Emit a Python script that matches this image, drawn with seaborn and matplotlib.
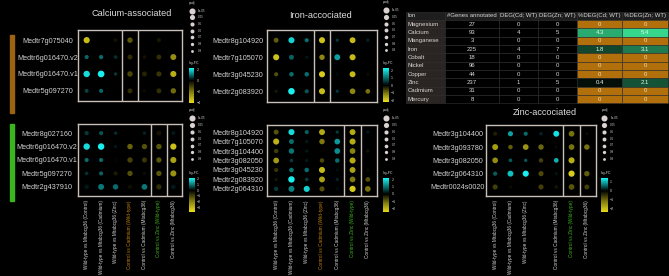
import numpy as np
import pandas as pd
import matplotlib
matplotlib.use("Agg")
import matplotlib.pyplot as plt
import seaborn as sns
from matplotlib.colors import LinearSegmentedColormap, Normalize
from matplotlib.cm import ScalarMappable
from matplotlib.patches import Rectangle

W, H = 669, 276
FRAME = "#c9c1b9"
TXT = "#d2d2d2"
ORANGE = "#c0800f"
GREEN = "#3cb41c"

plt.rcParams.update({
    "font.family": ["Liberation Sans", "DejaVu Sans"],
    "figure.facecolor": "black",
    "axes.facecolor": "black",
})

# ---- data -------------------------------------------------------------
contrasts = ["Wild-type vs Mtabcg36 (Control)", "Wild-type vs Mtabcg36 (Cadmium)",
             "Wild-type vs Mtabcg36 (Zinc)", "Control vs Cadmium (Wild-type)",
             "Control vs Cadmium (Mtabcg36)", "Control vs Zinc (Wild-type)",
             "Control vs Zinc (Mtabcg36)"]
contrast_colors = [TXT, TXT, TXT, ORANGE, TXT, GREEN, TXT]

padj_breaks = [1e-05, 0.05, 0.5, 0.6, 0.7, 0.8, 0.9]
padj_labels = ["1e-05", "0.05", "0.5", "0.6", "0.7", "0.8", "0.9"]

ca_top_genes = ["Medtr7g075040", "Medtr6g016470.v2", "Medtr6g016470.v1", "Medtr5g097270"]
ca_top_lfc = [[-3.5, 0.0, -0.3, -1.5, 0.0, -0.4, 0.0],
              [0.9, 0.9, 0.4, -0.8, -0.3, -0.8, -2.5],
              [2.0, 2.2, 0.5, -1.2, -0.6, -0.9, -3.2],
              [0.6, 0.9, 0.0, -0.8, -0.2, -0.8, -1.8]]
ca_top_padj = [[1e-6, 0.9, 0.7, 0.01, 0.9, 0.5, 0.9],
               [0.5, 0.4, 0.7, 0.1, 0.7, 0.1, 1e-4],
               [1e-8, 1e-12, 0.8, 0.01, 0.1, 0.05, 1e-5],
               [0.6, 0.5, 0.9, 0.1, 0.8, 0.1, 0.01]]

ca_bot_genes = ["Medtr8g027160", "Medtr6g016470.v2", "Medtr6g016470.v1",
                "Medtr5g097270", "Medtr2g437910"]
ca_bot_lfc = [[0.5, 0.7, 0.4, 0.0, 0.3, -0.3, 0.2],
              [1.9, 2.1, 0.2, -1.5, -1.2, -1.3, -3.2],
              [0.9, 0.9, 0.05, -1.0, -0.8, -1.3, -2.6],
              [0.4, 0.8, -0.4, -1.2, -0.2, -1.3, -2.3],
              [0.2, 1.0, 0.9, -0.2, 1.0, -0.7, 0.2]]
ca_bot_padj = [[0.5, 0.5, 0.8, 0.9, 0.8, 0.1, 0.5],
               [1e-8, 1e-9, 0.8, 0.01, 0.02, 0.01, 1e-6],
               [0.5, 0.5, 0.9, 0.02, 0.05, 0.02, 1e-5],
               [0.7, 0.5, 0.5, 0.02, 0.8, 0.02, 1e-5],
               [0.3, 1e-4, 0.01, 0.3, 1e-3, 0.02, 0.2]]

fe_top_genes = ["Medtr8g104920", "Medtr7g105070", "Medtr3g045230", "Medtr2g083920"]
fe_top_lfc = [[-0.8, 2.0, 1.0, -1.9, 0.5, -1.8, 0.3],
              [-1.9, 0.9, 0.2, -1.2, 1.5, -1.8, 0.0],
              [-0.7, 1.0, 1.0, -2.0, 0.1, -1.8, -0.1],
              [-0.2, 2.3, 0.8, -1.8, 0.5, -1.2, -1.0]]
fe_top_padj = [[0.1, 1e-5, 0.5, 1e-5, 0.8, 1e-4, 0.8],
               [1e-5, 0.1, 0.8, 0.01, 1e-4, 1e-5, 0.9],
               [0.5, 0.3, 0.3, 1e-5, 0.8, 1e-4, 0.8],
               [0.8, 1e-10, 0.5, 1e-5, 0.8, 1e-3, 0.2]]

fe_bot_genes = ["Medtr8g104920", "Medtr7g105070", "Medtr3g104400", "Medtr3g082050",
                "Medtr3g045230", "Medtr2g083920", "Medtr2g064310"]
fe_bot_lfc = [[-0.8, 1.9, 0.8, -1.8, 0.5, -1.8, 0.2],
              [-1.9, 0.9, 0.2, -1.2, 1.3, -1.8, 0.0],
              [-0.6, 1.0, 0.2, 0.0, 1.2, -1.3, -0.2],
              [-1.6, 0.5, 0.2, -0.7, 0.9, -1.8, 0.0],
              [-0.5, 1.0, 0.9, -2.0, 0.1, -1.7, -0.1],
              [-0.2, 2.1, 0.5, -1.7, 0.3, -1.2, -0.8],
              [0.5, 1.1, 1.8, -0.8, 0.1, -2.2, -1.1]]
fe_bot_padj = [[0.1, 1e-5, 0.5, 1e-4, 0.8, 1e-4, 0.8],
               [1e-5, 0.1, 0.8, 0.01, 1e-3, 1e-5, 0.9],
               [0.3, 0.01, 0.8, 0.9, 1e-3, 1e-3, 0.8],
               [1e-3, 0.7, 0.8, 0.3, 0.3, 1e-5, 0.9],
               [0.5, 0.3, 0.3, 1e-5, 0.8, 1e-4, 0.8],
               [0.8, 1e-8, 0.7, 1e-4, 0.8, 1e-3, 0.2],
               [0.4, 1e-4, 1e-5, 0.05, 0.8, 1e-6, 1e-3]]

zn_genes = ["Medtr3g104400", "Medtr3g093780", "Medtr3g082050", "Medtr2g064310", "Medtr0024s0020"]
zn_lfc = [[-0.3, 0.9, 0.6, 0.2, 1.3, -1.1, -0.1],
          [-1.6, -0.9, -1.5, -1.0, -0.1, -1.1, -1.1],
          [-1.4, 0.5, 0.5, -0.6, 1.0, -1.8, 0.0],
          [0.5, 1.1, 1.5, -0.7, 0.1, -2.2, -0.9],
          [-0.6, -0.1, 0.0, -0.6, -0.2, -0.8, -0.6]]
zn_padj = [[0.5, 0.05, 0.5, 0.8, 1e-4, 1e-3, 0.8],
           [1e-4, 0.3, 1e-3, 0.01, 0.9, 1e-3, 0.01],
           [1e-3, 0.7, 0.8, 0.3, 0.2, 1e-5, 0.9],
           [0.4, 1e-4, 1e-5, 0.05, 0.8, 1e-6, 0.01],
           [0.05, 0.8, 0.9, 0.05, 0.7, 1e-3, 0.1]]
zn_xlabels = contrasts[:3] + [""] + contrasts[4:]

# log2FC colour limits per panel (ggplot used the data range)
ca_top_lim, ca_top_ticks = (-4.2, 2.2), [2, 0, -2, -4]
ca_bot_lim, ca_bot_ticks = (-3.75, 2.1), [2, 1, 0, -1, -2, -3]
fe_top_lim, fe_top_ticks = (-2.2, 2.3), [2, 1, 0, -1, -2]
fe_bot_lim, fe_bot_ticks = (-2.45, 2.1), [2, 1, 0, -1, -2]
zn_lim, zn_ticks = (-2.4, 1.4), [1, 0, -1, -2]

table_cols = ["Ion", "#Genes annotated", "DEG(Cd; WT)", "DEG(Zn; WT)", "%DEG(Cd; WT)", "%DEG(Zn; WT)"]
ions = ["Magnesium", "Calcium", "Manganese", "Iron", "Cobalt", "Nickel",
        "Copper", "Zinc", "Cadmium", "Mercury"]
genes_annotated = [27, 93, 3, 225, 18, 96, 44, 237, 31, 8]
deg_cd = [0, 4, 0, 4, 0, 0, 0, 1, 0, 0]
deg_zn = [0, 5, 0, 7, 0, 0, 0, 5, 0, 0]
pct_cd = [0, 4.3, 0, 1.8, 0, 0, 0, 0.4, 0, 0]
pct_zn = [0, 5.4, 0, 3.1, 0, 0, 0, 2.1, 0, 0]


# ---- helpers ----------------------------------------------------------
def px_rect(x0, y0, x1, y1):
    return [x0 / W, 1 - y1 / H, (x1 - x0) / W, (y1 - y0) / H]


def dot_area(p):
    # diameter grows with log(-log10 padj); returned as marker area in pt^2
    d_px = 1.22 * (2.3 + 1.32 * (np.log10(-np.log10(p)) + 1.339))
    return (d_px * 0.72) ** 2


def fc_cmap(vmin, vmax):
    z = (0 - vmin) / (vmax - vmin)
    return LinearSegmentedColormap.from_list("fc", [
        (0.0, "#eadc1e"), (z * 0.5, "#827c0e"), (z, "#000000"),
        (z + (1 - z) * 0.5, "#0a7c7c"), (1.0, "#18f0f0")])


def build_frame(genes, lfc, padj):
    rows = []
    for g, lrow, prow in zip(genes, lfc, padj):
        for c, l, p in zip(contrasts, lrow, prow):
            rows.append({"gene": g, "contrast": c, "log2FC": l, "padj": p})
    return pd.DataFrame(rows)


def dot_panel(fig, rect, genes, lfc, padj, vlim, hl, ymarg, ypad, xlabels=None):
    df = build_frame(genes, lfc, padj)
    ax = fig.add_axes(px_rect(*rect))
    ax.set_facecolor("black")
    sizes = {p: dot_area(p) for p in df["padj"].unique()}
    sns.scatterplot(data=df, x="contrast", y="gene", hue="log2FC",
                    palette=fc_cmap(*vlim), hue_norm=Normalize(*vlim),
                    size="padj", sizes=sizes, linewidth=0, legend=False, ax=ax)
    n = len(genes)
    ax.set_xlim(-0.6, 6.6)
    ax.set_ylim(n - 1 + ymarg, -ymarg)
    ax.set_xlabel("")
    ax.set_ylabel("")
    ax.set_yticks(range(n), genes)
    if xlabels is None:
        ax.set_xticks(range(7), [""] * 7)
    else:
        ax.set_xticks(range(7), xlabels)
    ax.tick_params(length=0)
    ax.tick_params(axis="y", pad=ypad, labelsize=5.2, labelcolor=TXT)
    ax.tick_params(axis="x", pad=3, labelsize=3.4, labelrotation=90)
    for lab in ax.get_yticklabels():
        lab.set_ha("center")
    for lab, c in zip(ax.get_xticklabels(), contrast_colors):
        lab.set_color(c)
    for s in ax.spines.values():
        s.set_color(FRAME)
        s.set_linewidth(1.0)
    ax.axvline(hl - 0.53, color=FRAME, lw=1.0)
    ax.axvline(hl + 0.53, color=FRAME, lw=1.0)
    return ax


def padj_legend(ov, x, y, step):
    ov.text(x - 3, y - 8, "padj", fontsize=2.4, color=TXT, va="center", ha="left")
    for i, (p, lab) in enumerate(zip(padj_breaks, padj_labels)):
        ov.scatter(x, y + i * step, s=dot_area(p), color="#dad1d1", linewidth=0)
        ov.text(x + 6, y + i * step, lab, fontsize=2.2, color=TXT, va="center")


def fc_colorbar(fig, ov, rect, vlim, ticks):
    x0, y0 = rect[0], rect[1]
    ov.text(x0, y0 - 5, "log\u2082FC", fontsize=2.5, color=TXT, va="center", ha="left")
    cax = fig.add_axes(px_rect(*rect))
    cb = fig.colorbar(ScalarMappable(norm=Normalize(*vlim), cmap=fc_cmap(*vlim)), cax=cax)
    cb.outline.set_visible(False)
    cb.set_ticks(ticks)
    cax.tick_params(labelsize=2.6, colors=TXT, length=0, pad=1.5)


# ---- figure -----------------------------------------------------------
fig = plt.figure(figsize=(W / 100, H / 100), dpi=100)

dot_panel(fig, (78, 30, 182, 101), ca_top_genes, ca_top_lfc, ca_top_padj,
          ca_top_lim, 3, 0.6, 22)
dot_panel(fig, (78, 124, 182, 196), ca_bot_genes, ca_bot_lfc, ca_bot_padj,
          ca_bot_lim, 5, 0.68, 22.5, contrasts)
dot_panel(fig, (267, 30, 377, 101.5), fe_top_genes, fe_top_lfc, fe_top_padj,
          fe_top_lim, 3, 0.6, 21)
dot_panel(fig, (267, 125, 377, 196), fe_bot_genes, fe_bot_lfc, fe_bot_padj,
          fe_bot_lim, 5, 0.75, 21, contrasts)
dot_panel(fig, (486, 124.7, 596, 196), zn_genes, zn_lfc, zn_padj,
          zn_lim, 5, 0.68, 20.5, zn_xlabels)

# table of annotated / DEG counts
ax_t = fig.add_axes(px_rect(406, 11.6, 668, 103.2))
ax_t.axis("off")
cell_text = [[ion, str(g), str(a), str(b), f"{c:g}", f"{d:g}"]
             for ion, g, a, b, c, d in zip(ions, genes_annotated, deg_cd, deg_zn, pct_cd, pct_zn)]
col_w = np.array([39, 54, 39, 39, 45, 46], float)
tbl = ax_t.table(cellText=cell_text, colLabels=table_cols, colWidths=list(col_w / col_w.sum()),
                 cellLoc="center", bbox=[0, 0, 1, 1])
tbl.auto_set_font_size(False)
tbl.set_fontsize(4.3)
pct_cmap = LinearSegmentedColormap.from_list(
    "pct", [(0.0, "#b2700c"), (0.002, "#000000"), (1.0, "#36d68c")])
pct_norm = Normalize(0, 5.4)
for (r, c), cell in tbl.get_celld().items():
    cell.set_edgecolor("#333333")
    cell.set_linewidth(0.4)
    txt = cell.get_text()
    txt.set_color("#d6d6d6")
    if c == 0:
        txt.set_ha("left")
        cell.PAD = 0.05
    if r == 0:
        cell.set_facecolor("#1e1e1e")
    elif c == 0:
        cell.set_facecolor("#2a2522")
    elif c >= 4:
        v = (pct_cd if c == 4 else pct_zn)[r - 1]
        cell.set_facecolor(pct_cmap(pct_norm(v)))
        txt.set_color("#f2dfb8" if v == 0 else "#e8f5ec")
    else:
        cell.set_facecolor("black")

# overlay for titles, side bars and legends
ov = fig.add_axes([0, 0, 1, 1])
ov.set_xlim(0, W)
ov.set_ylim(H, 0)
ov.axis("off")

ov.add_patch(Rectangle((10, 35), 4, 78, color="#9c6410"))
ov.add_patch(Rectangle((10, 124), 4, 77, color=GREEN))

ov.text(131.7, 14, "Calcium-associated", fontsize=6.6, color="#dcdcdc", ha="center", va="center")
ov.text(321, 15.3, "Iron-accociated", fontsize=6.6, color="#dcdcdc", ha="center", va="center")
ov.text(545, 112.7, "Zinc-accociated", fontsize=6.6, color="#dcdcdc", ha="center", va="center")

padj_legend(ov, 192, 10.7, 6.67)
padj_legend(ov, 192, 118.3, 6.8)
padj_legend(ov, 385.7, 10.3, 6.67)
padj_legend(ov, 386, 118.3, 6.8)
padj_legend(ov, 604.3, 118.3, 6.8)

fc_colorbar(fig, ov, (189, 68.3, 194.5, 103.3), ca_top_lim, ca_top_ticks)
fc_colorbar(fig, ov, (189, 178.3, 195, 211.7), ca_bot_lim, ca_bot_ticks)
fc_colorbar(fig, ov, (382.7, 68.3, 389, 101.7), fe_top_lim, fe_top_ticks)
fc_colorbar(fig, ov, (382.7, 178.3, 389.3, 212.3), fe_bot_lim, fe_bot_ticks)
fc_colorbar(fig, ov, (601, 178.3, 607.7, 212.3), zn_lim, zn_ticks)

fig.savefig("out.png", dpi=100, facecolor="black")
